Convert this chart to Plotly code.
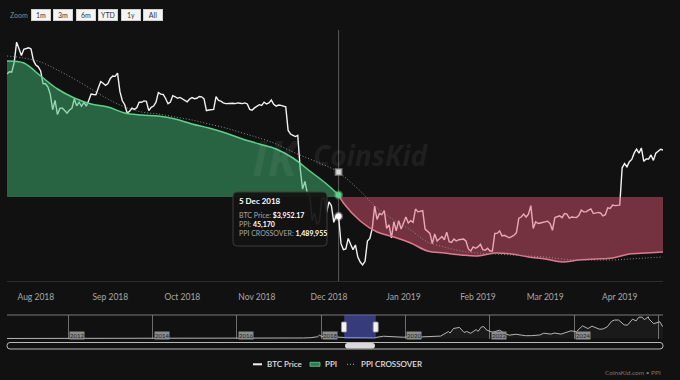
import plotly.graph_objects as go
import pandas as pd

# ---------------- data ----------------
BTC_START = "2018-07-20"
btc_jul = [7333, 7405, 7398, 7717, 8424, 8182, 7951, 8165, 8192, 8218, 8180, 7780]
btc_aug = [7625, 7567, 7434, 7033, 7031, 6937, 6720, 6280, 6539, 6148,
           6315, 6330, 6260, 6190, 6273, 6316, 6580, 6388, 6488, 6376,
           6487, 6377, 6535, 6723, 6710, 6705, 6903, 7096, 7047, 6979, 7038]
btc_sep = [7193, 7272, 7260, 7362, 6793, 6530, 6419, 6190, 6240, 6321,
           6289, 6335, 6488, 6486, 6526, 6514, 6254, 6348, 6381, 6488,
           6768, 6721, 6710, 6595, 6447, 6496, 6677, 6644, 6601, 6625]
btc_oct = [6589, 6556, 6502, 6576, 6622, 6588, 6602, 6652, 6642, 6585,
           6256, 6274, 6285, 6290, 6650, 6540, 6520, 6470, 6450, 6460,
           6470, 6460, 6450, 6470, 6460, 6450, 6470, 6440, 6290, 6270, 6330]
btc_nov = [6380, 6420, 6400, 6490, 6440, 6470, 6550, 6430, 6380, 6410,
           6400, 6370, 6360, 5740, 5650, 5620, 5590, 5620, 4870, 4450,
           4600, 4360, 4330, 3880, 4010, 3820, 3860, 4270, 4280, 4020]
btc_dec = [4210, 4140, 3850, 3960, 3952.17, 3510, 3420, 3430, 3590, 3500,
           3420, 3490, 3310, 3240, 3200, 3250, 3550, 3590, 3750, 4130,
           3900, 4000, 3980, 4050, 3750, 3810, 3600, 3860, 3710, 3880, 3740]
btc_jan = [3840, 3940, 3840, 3880, 3850, 4080, 4030, 4040, 4050, 3740,
           3700, 3670, 3510, 3660, 3550, 3590, 3620, 3570, 3690, 3540,
           3530, 3580, 3550, 3570, 3570, 3580, 3550, 3430, 3400, 3460, 3440]
btc_feb = [3460, 3500, 3420, 3410, 3440, 3400, 3400, 3670, 3670, 3710,
           3630, 3640, 3620, 3600, 3620, 3640, 3680, 3920, 3940, 3990,
           3940, 3990, 4140, 3750, 3860, 3830, 3840, 3850]
btc_mar = [3860, 3870, 3830, 3720, 3930, 3950, 3960, 3930, 4000, 3990,
           3920, 3940, 3930, 3930, 3970, 4060, 4030, 4030, 4060, 4080,
           4000, 4010, 4020, 4010, 3960, 3980, 4100, 4090, 4150, 4140, 4140]
btc_apr = [4150, 4880, 4970, 4900, 5010, 5060, 5200, 5290, 5200, 5320,
           5020, 5070, 5070, 5160, 5040, 5200, 5240, 5290, 5270]

ppi_dates = ["2018-07-20", "2018-07-27", "2018-08-03", "2018-08-10", "2018-08-17",
             "2018-08-24", "2018-08-31", "2018-09-07", "2018-09-14", "2018-09-21",
             "2018-09-28", "2018-10-05", "2018-10-12", "2018-10-19", "2018-10-26",
             "2018-11-02", "2018-11-09", "2018-11-16", "2018-11-23", "2018-11-30",
             "2018-12-05", "2018-12-07", "2018-12-14", "2018-12-21", "2018-12-28",
             "2019-01-04", "2019-01-11", "2019-01-18", "2019-01-25", "2019-02-01",
             "2019-02-08", "2019-02-15", "2019-02-22", "2019-03-01", "2019-03-08",
             "2019-03-15", "2019-03-22", "2019-03-29", "2019-04-05", "2019-04-12",
             "2019-04-19"]
ppi_values = [58570, 58370, 57070, 55770, 54870, 54270, 53970, 53370, 53170, 53070,
              52770, 52270, 51870, 51370, 50770, 50270, 49770, 48870, 47570, 46270,
              45170, 44370, 42570, 41470, 40970, 40370, 39570, 39370, 39170, 39070,
              39370, 39270, 38970, 38770, 38470, 38670, 38770, 38870, 39270, 39370,
              39470]
crossover_values = [2650000, 2630000, 2590000, 2510000, 2420000, 2320000, 2220000, 2140000,
                    2090000, 2070000, 2040000, 2010000, 1970000, 1930000, 1880000, 1830000,
                    1770000, 1690000, 1620000, 1550000, 1489955, 1450000, 1300000, 1130000,
                    1010000, 910000, 790000, 740000, 700000, 680000, 670000, 660000,
                    650000, 640000, 620000, 610000, 610000, 610000, 620000, 630000, 640000]
PPI_THRESHOLD = 44970

nav_dates = ["2010-07-20", "2011-01-01", "2011-06-01", "2012-01-01", "2013-01-01", "2013-04-01",
             "2013-12-01", "2014-06-01", "2015-01-01", "2016-01-01", "2016-07-01", "2017-01-01",
             "2017-05-01", "2017-08-01", "2017-10-01", "2017-12-01", "2017-12-17", "2018-01-01",
             "2018-02-06", "2018-03-01", "2018-04-01", "2018-05-01", "2018-07-01", "2018-10-01",
             "2018-12-15", "2019-04-01", "2019-06-26", "2019-09-01", "2019-12-15", "2020-02-12",
             "2020-03-15", "2020-06-01", "2020-09-01", "2020-11-01", "2021-01-08", "2021-01-22",
             "2021-02-21", "2021-04-14", "2021-05-23", "2021-06-15", "2021-07-20", "2021-09-06",
             "2021-09-21", "2021-10-20", "2021-11-10", "2021-12-04", "2022-01-24", "2022-03-28",
             "2022-05-12", "2022-06-18", "2022-08-14", "2022-11-09", "2022-12-31", "2023-03-10",
             "2023-04-14", "2023-06-15", "2023-07-13", "2023-09-11", "2023-12-05", "2024-01-23",
             "2024-03-14", "2024-05-01", "2024-06-05", "2024-08-05", "2024-09-06", "2024-10-15",
             "2024-11-22", "2024-12-17", "2025-01-21", "2025-03-10", "2025-04-08", "2025-05-22",
             "2025-06-22", "2025-07-14", "2025-08-14", "2025-09-01", "2025-10-06", "2025-10-10",
             "2025-11-21", "2026-01-14", "2026-02-05", "2026-02-10"]
nav_values = [0.05, 0.3, 9, 5, 13, 100,
              1000, 630, 250, 430, 650, 1000,
              1400, 2800, 4400, 10000, 19000, 13500,
              7000, 10300, 6900, 9200, 6400, 6600,
              3200, 4100, 12900, 9600, 7100, 10300,
              5300, 9500, 11700, 13800, 40000, 30800,
              57500, 63500, 34700, 40100, 29800, 51700,
              40600, 66000, 68500, 49000, 36000, 47500,
              29000, 19000, 24300, 15900, 16500, 20000,
              30400, 25100, 31400, 25100, 44000, 39500,
              73000, 57000, 71000, 54000, 54000, 67000,
              99000, 106000, 106000, 78500, 76300, 111000,
              101000, 122000, 123000, 108000, 124700, 113000,
              85000, 96000, 70000, 72000]

nav_year_labels = ["2012", "2014", "2016", "2018", "2020", "2022", "2024"]
zoom_buttons = ["1m", "3m", "6m", "YTD", "1y", "All"]
series_names = ["BTC Price", "PPI", "PPI CROSSOVER"]
HOVER_DATE = "2018-12-05"
X_START, X_END = "2018-07-20", "2019-04-19"
NAV_START, NAV_END = "2010-07-20", "2026-02-10"

btc_price = btc_jul + btc_aug + btc_sep + btc_oct + btc_nov + btc_dec + btc_jan + btc_feb + btc_mar + btc_apr
btc_dates = pd.date_range(BTC_START, periods=len(btc_price), freq="D")
ppi_dt = pd.to_datetime(ppi_dates)

# ---------------- geometry helpers ----------------
W, H = 680, 380
L, R, T, B = 7, 17, 30, 41
PW, PH = W - L - R, H - T - B
MAIN_BOTTOM = 281
NAV_TOP = 315


def px(x):
    return (x - L) / PW


def py(y):
    return (H - B - y) / PH


def rrect(x0, y0, x1, y1, r):
    return (f"M{px(x0 + r)},{py(y0)} L{px(x1 - r)},{py(y0)} Q{px(x1)},{py(y0)} {px(x1)},{py(y0 + r)} "
            f"L{px(x1)},{py(y1 - r)} Q{px(x1)},{py(y1)} {px(x1 - r)},{py(y1)} "
            f"L{px(x0 + r)},{py(y1)} Q{px(x0)},{py(y1)} {px(x0)},{py(y1 - r)} "
            f"L{px(x0)},{py(y0 + r)} Q{px(x0)},{py(y0)} {px(x0 + r)},{py(y0)} Z")


BG = "#111111"
FONT = "Lato"
BTC_LINE = "#f2f2f2"
GREEN_LINE = "#5fd08c"
GREEN_FILL = "rgba(63,183,113,0.5)"
RED_LINE = "#e0798f"
RED_FILL = "rgba(225,85,115,0.48)"
CROSS_LINE = "#8c8c8c"
DOTS = "1px,2px"

k = ppi_dates.index(HOVER_DATE)
hi = list(btc_dates).index(pd.Timestamp(HOVER_DATE))

fig = go.Figure()

# BTC price (log axis, drawn beneath the PPI fill)
fig.add_trace(go.Scatter(x=btc_dates, y=btc_price, mode="lines", name=series_names[0],
                         line=dict(color=BTC_LINE, width=1.4), yaxis="y"))

# PPI above threshold (green)
fig.add_trace(go.Scatter(x=ppi_dt[:k + 1], y=[PPI_THRESHOLD] * (k + 1), mode="lines",
                         line=dict(width=0, shape="spline"), yaxis="y2", hoverinfo="skip"))
fig.add_trace(go.Scatter(x=ppi_dt[:k + 1], y=ppi_values[:k + 1], mode="lines", name=series_names[1],
                         line=dict(color=GREEN_LINE, width=1.5, shape="spline"),
                         fill="tonexty", fillcolor=GREEN_FILL, yaxis="y2"))
# PPI below threshold (red)
n_red = len(ppi_dates) - k
fig.add_trace(go.Scatter(x=ppi_dt[k:], y=[PPI_THRESHOLD] * n_red, mode="lines",
                         line=dict(width=0, shape="spline"), yaxis="y2", hoverinfo="skip"))
fig.add_trace(go.Scatter(x=ppi_dt[k:], y=ppi_values[k:], mode="lines", name=series_names[1],
                         line=dict(color=RED_LINE, width=1.5, shape="spline"),
                         fill="tonexty", fillcolor=RED_FILL, yaxis="y2"))
# PPI marker
fig.add_trace(go.Scatter(x=[ppi_dt[k]], y=[ppi_values[k]], mode="markers", yaxis="y2",
                         marker=dict(size=6, color=GREEN_LINE,
                                     line=dict(color="rgba(95,208,140,0.45)", width=3))))

# PPI crossover (dotted)
fig.add_trace(go.Scatter(x=ppi_dt, y=crossover_values, mode="lines", name=series_names[2],
                         line=dict(color=CROSS_LINE, width=1, dash=DOTS, shape="spline"),
                         yaxis="y3"))
fig.add_trace(go.Scatter(x=[ppi_dt[k]], y=[crossover_values[k]], mode="markers", yaxis="y3",
                         marker=dict(size=6, symbol="square", color="#d8d8d8",
                                     line=dict(color="rgba(150,150,150,0.6)", width=2))))
# BTC marker on top
fig.add_trace(go.Scatter(x=[btc_dates[hi]], y=[btc_price[hi]], mode="markers", yaxis="y",
                         marker=dict(size=6, color="#ffffff",
                                     line=dict(color="rgba(255,255,255,0.35)", width=3))))

# Navigator series
fig.add_trace(go.Scatter(x=pd.to_datetime(nav_dates), y=nav_values, mode="lines",
                         xaxis="x2", yaxis="y4", line=dict(color="#b5b5b5", width=1),
                         fill="tozeroy", fillcolor="rgba(255,255,255,0.04)"))

main_dom = [py(MAIN_BOTTOM), 1]
nav_dom = [0, py(NAV_TOP)]

fig.update_layout(
    width=W, height=H,
    margin=dict(l=L, r=R, t=T, b=B),
    paper_bgcolor=BG, plot_bgcolor=BG,
    font=dict(family=FONT, color="#aaaaaa", size=8),
    showlegend=False,
    xaxis=dict(domain=[0, 1], anchor="y", type="date", range=[X_START, X_END],
               dtick="M1", tick0="2018-08-01", tickformat="%b %Y",
               showgrid=False, showline=True, linecolor="#2c2c2c", zeroline=False,
               ticks="outside", ticklen=8, tickcolor="rgba(0,0,0,0)",
               tickfont=dict(size=8.5, color="#a8a8a8", family=FONT)),
    yaxis=dict(domain=main_dom, type="log", range=[3.47481, 3.94840], visible=False),
    yaxis2=dict(overlaying="y", range=[36570, 61670], visible=False),
    yaxis3=dict(overlaying="y", range=[399955, 2909955], visible=False),
    xaxis2=dict(domain=[0, 1], anchor="y4", type="date", range=[NAV_START, NAV_END],
                showgrid=True, gridcolor="#6e6e6e", gridwidth=1, dtick="M24",
                tick0="2012-01-01", showticklabels=False, ticks="", zeroline=False,
                showline=False),
    yaxis4=dict(domain=nav_dom, anchor="x2", range=[-3000, 135000], visible=False),
    hovermode=False,
)

shapes = []
# crosshair
shapes.append(dict(type="line", xref="x", yref="paper", x0=HOVER_DATE, x1=HOVER_DATE,
                   y0=py(MAIN_BOTTOM), y1=1, line=dict(color="#5a5a5a", width=1), layer="below"))
# navigator top border
shapes.append(dict(type="line", xref="paper", yref="paper", x0=0, x1=px(663),
                   y0=py(NAV_TOP), y1=py(NAV_TOP), line=dict(color="#7a7a7a", width=1)))
# navigator selected range
shapes.append(dict(type="rect", xref="x2", yref="paper", x0=X_START, x1=X_END,
                   y0=0, y1=py(NAV_TOP), fillcolor="rgba(85,97,212,0.55)", line=dict(width=0)))
# navigator handles
for hx in (344, 375.7):
    shapes.append(dict(type="path", xref="paper", yref="paper",
                       path=rrect(hx - 2.5, 322, hx + 2.5, 332, 1),
                       fillcolor="#f2f2f2", line=dict(color="#999999", width=0.8)))
# scrollbar
shapes.append(dict(type="path", xref="paper", yref="paper", path=rrect(7, 342.5, 663, 349, 3),
                   fillcolor="rgba(0,0,0,0)", line=dict(color="#b8b8b8", width=1)))
shapes.append(dict(type="path", xref="paper", yref="paper", path=rrect(345, 343, 375, 348.5, 2.7),
                   fillcolor="#d9d9d9", line=dict(width=0)))
# tooltip box
shapes.append(dict(type="path", xref="paper", yref="paper", path=rrect(233, 192, 327, 246, 4),
                   fillcolor="rgba(18,18,18,0.93)", line=dict(color="#3c3c3c", width=1)))
# legend symbols
LEG_Y = 364.3
shapes.append(dict(type="line", xref="paper", yref="paper", x0=px(253), x1=px(262),
                   y0=py(LEG_Y), y1=py(LEG_Y), line=dict(color=BTC_LINE, width=2)))
shapes.append(dict(type="rect", xref="paper", yref="paper", x0=px(310), x1=px(320),
                   y0=py(LEG_Y + 2), y1=py(LEG_Y - 2), fillcolor="#2f7a50",
                   line=dict(color=GREEN_LINE, width=0.8)))
shapes.append(dict(type="line", xref="paper", yref="paper", x0=px(347), x1=px(356),
                   y0=py(LEG_Y), y1=py(LEG_Y), line=dict(color=CROSS_LINE, width=1.2, dash=DOTS)))
fig.update_layout(shapes=shapes)

ann = []
# watermark
ann.append(dict(xref="paper", yref="paper", x=px(370), y=py(155), text="<b><i>CoinsKid</i></b>",
                showarrow=False, font=dict(size=28, color="rgba(255,255,255,0.07)", family="Open Sans")))
ann.append(dict(xref="paper", yref="paper", x=px(276), y=py(157), text="<b><i>IK</i></b>",
                showarrow=False, font=dict(size=48, color="rgba(255,255,255,0.06)", family="Open Sans")))
# zoom label & buttons
ann.append(dict(xref="paper", yref="paper", x=px(8), y=py(14.5), xanchor="left", yanchor="middle",
                text="Zoom", showarrow=False, font=dict(size=7, color="#8a8a8a")))
for i, b in enumerate(zoom_buttons):
    ann.append(dict(xref="paper", yref="paper", x=px(41 + 22.4 * i), y=py(14.5),
                    xanchor="center", yanchor="middle", text=b, showarrow=False,
                    width=16, height=8, borderpad=1, bgcolor="#f4f4f4", bordercolor="#d0d0d0",
                    borderwidth=1, font=dict(size=7, color="#333333")))
# navigator year labels
for yr in nav_year_labels:
    ann.append(dict(xref="x2", yref="paper", x=f"{yr}-01-01", y=py(335.5), xanchor="left",
                    yanchor="middle", xshift=1, text=yr, showarrow=False, borderpad=0,
                    bgcolor="#8c8c8c", font=dict(size=6, color="#1e1e1e")))
# tooltip text
d = btc_dates[hi]
ann.append(dict(xref="paper", yref="paper", x=px(237), y=py(200.7), xanchor="left",
                yanchor="middle", showarrow=False,
                text=f"<b>{d.day} {d:%b %Y}</b>", font=dict(size=8, color="#ffffff")))
body = (f"<span style='color:#a8a8a8'>BTC Price:</span> <b>${btc_price[hi]:,.2f}</b><br>"
        f"<span style='color:#a8a8a8'>PPI:</span> <b>{ppi_values[k]:,}</b><br>"
        f"<span style='color:#a8a8a8'>PPI CROSSOVER:</span> <b>{crossover_values[k]:,}</b>")
ann.append(dict(xref="paper", yref="paper", x=px(237), y=py(209), xanchor="left",
                yanchor="top", align="left", showarrow=False, text=body,
                font=dict(size=7, color="#ffffff")))
# legend texts
for name, lx in zip(series_names, (265, 323, 359)):
    ann.append(dict(xref="paper", yref="paper", x=px(lx), y=py(LEG_Y), xanchor="left",
                    yanchor="middle", showarrow=False, text=name,
                    font=dict(size=8, color="#e0e0e0", weight=600)))
# credits
ann.append(dict(xref="paper", yref="paper", x=px(663), y=py(372), xanchor="right",
                yanchor="middle", showarrow=False, text="CoinsKid.com • PPI",
                font=dict(size=6.5, color="#777777")))
fig.update_layout(annotations=ann)

fig.write_html("out.html", config={"displayModeBar": False},
               post_script="document.body.style.margin='0';")
